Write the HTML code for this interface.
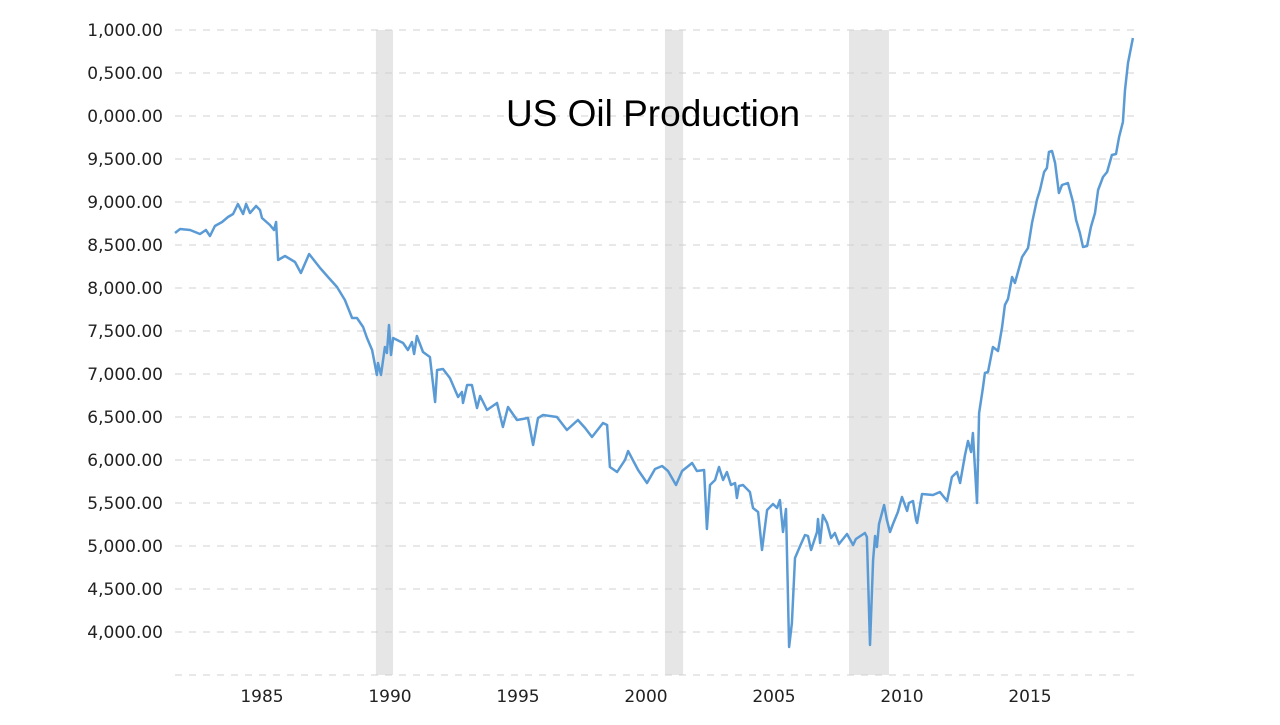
<!DOCTYPE html>
<html><head><meta charset="utf-8"><style>
body{margin:0;background:#fff;width:1280px;height:720px;overflow:hidden}
svg text{font-family:"Liberation Sans",sans-serif}
svg text.tick{font-family:"DejaVu Sans",sans-serif}
</style></head><body>
<svg id="chart" width="1280" height="720" xmlns="http://www.w3.org/2000/svg">
<g id="bands"></g>
<g id="grid"></g>
<g id="yaxis"></g>
<g id="xaxis"></g>
<text x="653" y="126" text-anchor="middle" font-size="37" fill="#000">US Oil Production</text>
<path id="line" fill="none" stroke="#5b9bd5" stroke-width="2.5" stroke-linejoin="round"></path>
</svg>
<script>
const yTickValues=[11000,10500,10000,9500,9000,8500,8000,7500,7000,6500,6000,5500,5000,4500,4000,3500];
const yTickLabels=["1,000.00","0,500.00","0,000.00","9,500.00","9,000.00","8,500.00","8,000.00","7,500.00","7,000.00","6,500.00","6,000.00","5,500.00","5,000.00","4,500.00","4,000.00",""];
const xTickYears=[1985,1990,1995,2000,2005,2010,2015];
const recessionStarts=[1989.45,2000.74,2007.93];
const recessionEnds=[1990.12,2001.45,2009.49];
const years=[1981.60,1981.80,1982.19,1982.58,1982.81,1982.97,1983.16,1983.44,1983.67,1983.87,1984.06,1984.26,1984.38,1984.53,1984.77,1984.92,1985.00,1985.31,1985.47,1985.55,1985.63,1985.90,1986.29,1986.52,1986.84,1987.27,1987.58,1987.93,1988.24,1988.52,1988.71,1988.95,1989.10,1989.30,1989.49,1989.53,1989.65,1989.80,1989.88,1989.96,1990.04,1990.12,1990.51,1990.70,1990.86,1990.94,1991.05,1991.29,1991.56,1991.76,1991.84,1992.07,1992.34,1992.66,1992.81,1992.85,1993.01,1993.20,1993.40,1993.52,1993.79,1994.18,1994.41,1994.61,1994.96,1995.39,1995.59,1995.78,1995.98,1996.52,1996.91,1997.34,1997.62,1997.89,1998.32,1998.48,1998.59,1998.87,1999.18,1999.30,1999.69,2000.04,2000.35,2000.63,2000.86,2001.17,2001.41,2001.80,2001.99,2002.27,2002.38,2002.50,2002.70,2002.85,2003.01,2003.16,2003.32,2003.48,2003.55,2003.63,2003.79,2004.06,2004.18,2004.38,2004.53,2004.73,2004.96,2005.12,2005.23,2005.35,2005.47,2005.59,2005.70,2005.82,2006.02,2006.21,2006.33,2006.45,2006.68,2006.72,2006.80,2006.91,2007.07,2007.23,2007.38,2007.54,2007.85,2008.09,2008.20,2008.55,2008.63,2008.75,2008.87,2008.95,2009.02,2009.10,2009.30,2009.41,2009.53,2009.65,2009.84,2010.00,2010.20,2010.27,2010.43,2010.55,2010.59,2010.78,2011.21,2011.48,2011.76,2011.95,2012.15,2012.27,2012.46,2012.58,2012.70,2012.77,2012.93,2013.01,2013.16,2013.24,2013.36,2013.55,2013.75,2013.91,2014.02,2014.14,2014.30,2014.41,2014.69,2014.92,2015.08,2015.27,2015.39,2015.55,2015.66,2015.74,2015.86,2015.98,2016.13,2016.25,2016.48,2016.68,2016.80,2016.95,2017.07,2017.23,2017.38,2017.54,2017.66,2017.85,2018.01,2018.20,2018.36,2018.48,2018.63,2018.71,2018.83,2019.02];
const production=[8640,8686,8674,8628,8674,8605,8721,8767,8826,8860,8977,8860,8977,8872,8953,8907,8814,8733,8674,8767,8326,8372,8302,8174,8395,8233,8128,8012,7860,7651,7651,7547,7419,7279,6988,7128,6988,7314,7244,7570,7221,7419,7360,7279,7372,7233,7442,7256,7198,6674,7047,7058,6953,6733,6791,6663,6872,6872,6605,6744,6581,6663,6384,6616,6465,6488,6174,6488,6523,6500,6349,6465,6372,6267,6430,6407,5919,5860,6000,6105,5884,5733,5895,5930,5872,5709,5872,5965,5872,5884,5198,5709,5767,5919,5767,5860,5709,5733,5558,5698,5709,5628,5442,5395,4953,5419,5488,5442,5535,5163,5430,3826,4105,4860,5000,5128,5116,4953,5163,5314,5035,5360,5267,5093,5151,5023,5140,5012,5081,5151,5105,3849,4837,5116,4988,5256,5477,5302,5163,5256,5395,5570,5407,5500,5523,5302,5267,5605,5593,5628,5523,5802,5860,5733,6058,6221,6093,6314,5500,6547,6837,7012,7023,7314,7267,7547,7802,7872,8128,8058,8360,8465,8756,9023,9140,9349,9395,9581,9593,9453,9105,9198,9221,9000,8791,8640,8477,8488,8709,8872,9140,9291,9349,9547,9558,9756,9930,10302,10616,10907];

const NS="http://www.w3.org/2000/svg";
const X0=175,X1=1134,Y0=30,Y1=675;
function xScale(yr){return 262+(yr-1985)*25.6;}
function yScale(v){return 675-(v-3500)*43/500;}
function mk(tag,attrs,parent){const e=document.createElementNS(NS,tag);for(const k in attrs)e.setAttribute(k,attrs[k]);parent.appendChild(e);return e;}

const bands=document.getElementById('bands');
recessionStarts.forEach((s,i)=>{
  const r=mk('rect',{x:xScale(s),y:Y0,width:xScale(recessionEnds[i])-xScale(s),height:Y1-Y0,fill:'#e6e6e6'},bands);
  
  
});
const grid=document.getElementById('grid'),ya=document.getElementById('yaxis');
yTickValues.forEach((v,i)=>{
  const l=mk('line',{x1:X0,x2:X1,y1:yScale(v),y2:yScale(v),stroke:'#d0d0d0','stroke-width':1,'stroke-dasharray':'7,7'},grid);
  
  
  if(!yTickLabels[i])return;
  const t=mk('text',{x:163,y:yScale(v)+6,'text-anchor':'end','font-size':17,fill:'#222',class:'tick'},ya);
  t.textContent=yTickLabels[i];
  
  
});
const xa=document.getElementById('xaxis');
xTickYears.forEach(yr=>{
  const t=mk('text',{x:xScale(yr),y:702,'text-anchor':'middle','font-size':17,fill:'#222',class:'tick'},xa);
  t.textContent=yr;
  
  
});
let d='';
years.forEach((yr,i)=>{d+=(i?'L':'M')+xScale(yr).toFixed(1)+','+yScale(production[i]).toFixed(1);});
document.getElementById('line').setAttribute('d',d);
</script>
</body></html>
